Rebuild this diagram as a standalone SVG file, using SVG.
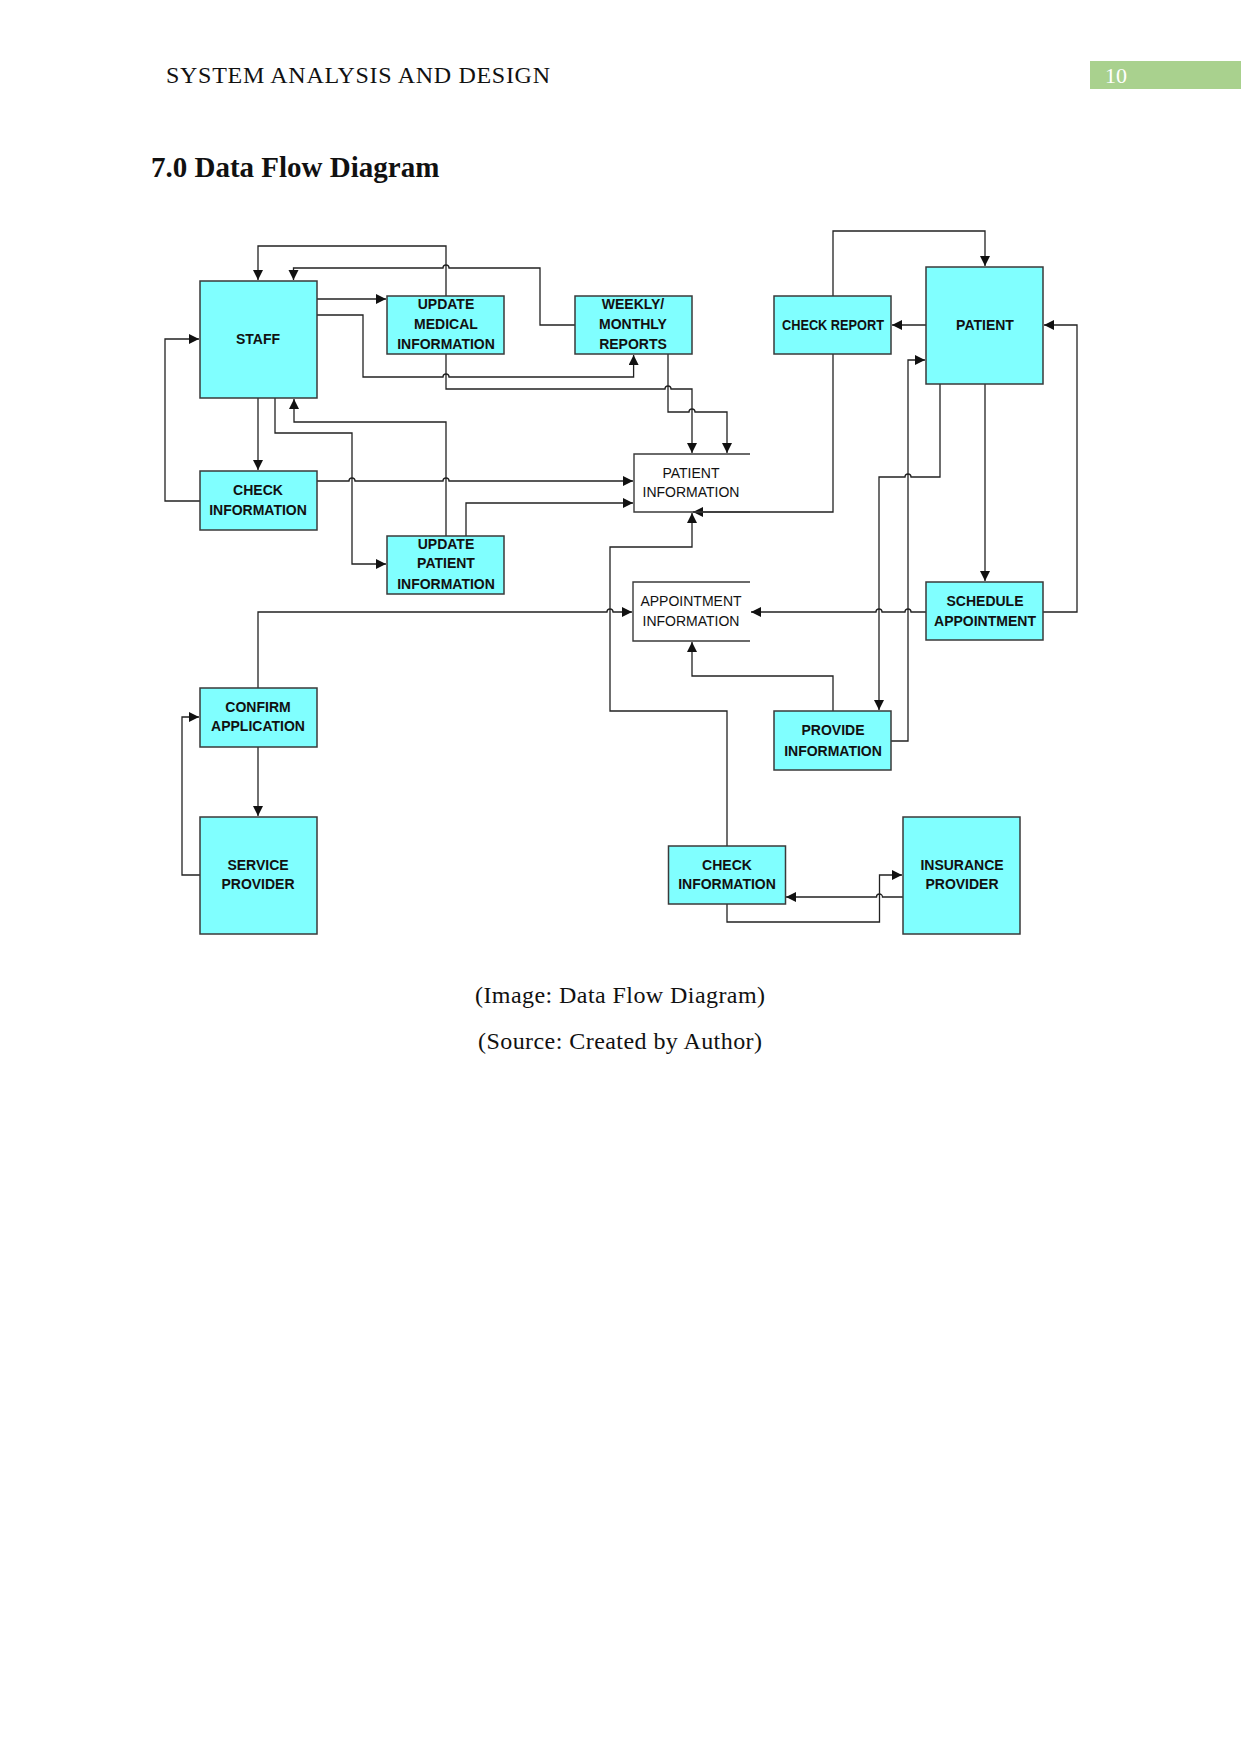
<svg xmlns="http://www.w3.org/2000/svg" width="1241" height="1754" viewBox="0 0 1241 1754">
<style>
.box{fill:#80ffff;stroke:#3a3a3a;stroke-width:1.5}
.store{fill:none;stroke:#3a3a3a;stroke-width:1.4}
.lbl{font-family:"Liberation Sans",Arial,sans-serif;font-size:14px;font-weight:bold;fill:#111;text-anchor:middle}
.slbl{font-family:"Liberation Sans",Arial,sans-serif;font-size:14px;fill:#111;text-anchor:middle}
.c path{fill:none;stroke:#222;stroke-width:1.3}
.ar{marker-end:url(#arr)}
</style>
<defs>
<marker id="arr" markerUnits="userSpaceOnUse" markerWidth="12" markerHeight="12" refX="10" refY="5" orient="auto">
<path d="M0,0 L10,5 L0,10 z" fill="#111"/>
</marker>
</defs>
<rect width="1241" height="1754" fill="#fff"/>
<text x="166" y="83" font-family="Liberation Serif,serif" font-size="24" textLength="384" fill="#111">SYSTEM ANALYSIS AND DESIGN</text>
<rect x="1090" y="61" width="151" height="28" fill="#a9d18e"/>
<text x="1105" y="83" font-family="Liberation Serif,serif" font-size="22" fill="#fff">10</text>
<text x="151" y="177" font-family="Liberation Serif,serif" font-size="29" font-weight="bold" fill="#111">7.0 Data Flow Diagram</text>

<g class="c" id="connectors">
<path class="ar" d="M446,296 V246 H258 V280"/>
<path class="ar" d="M575,325 H540 V268 H449 a3,3 0 0 0 -6,0 H293.5 V280"/>
<path class="ar" d="M317,299 H386"/>
<path class="ar" d="M317,315 H363 V377 H443 a3,3 0 0 1 6,0 H633.6 V355"/>
<path class="ar" d="M446,354 V389 H665 a3,3 0 0 1 6,0 H692 V453"/>
<path class="ar" d="M668,354 V412 H689 a3,3 0 0 1 6,0 H727 V453"/>
<path class="ar" d="M258,398 V470"/>
<path class="ar" d="M200,501 H165 V339 H199"/>
<path class="ar" d="M275,398 V433 H352 V564 H386"/>
<path class="ar" d="M446,536 V422 H294 V399"/>
<path class="ar" d="M317,481 H349 a3,3 0 0 1 6,0 H443 a3,3 0 0 1 6,0 H633"/>
<path class="ar" d="M466,536 V503 H633"/>
<path class="ar" d="M833,354 V512 H693"/>
<path class="ar" d="M833,296 V231 H985 V266"/>
<path class="ar" d="M926,325 H892"/>
<path class="ar" d="M1043,612 H1077 V325 H1044"/>
<path class="ar" d="M985,384 V581"/>
<path class="ar" d="M940,384 V477 H911 a3,3 0 0 0 -6,0 H879 V710"/>
<path class="ar" d="M891,741 H908 V360 H925"/>
<path class="ar" d="M926,612 H911 a3,3 0 0 0 -6,0 H882 a3,3 0 0 0 -6,0 H751"/>
<path class="ar" d="M258,688 V612 H607 a3,3 0 0 1 6,0 H632"/>
<path class="ar" d="M833,711 V676 H692 V642"/>
<path class="ar" d="M727,846 V711 H610 V547 H692 V513"/>
<path class="ar" d="M258,747 V816"/>
<path class="ar" d="M200,875 H182 V717 H199"/>
<path class="ar" d="M903,897 H882.5 a3,3 0 0 0 -6,0 H786"/>
<path class="ar" d="M727,904 V922 H879.5 V875 H902"/>
</g>

<g id="staff"><rect class="box" x="200" y="281" width="117" height="117"/><text class="lbl" x="258" y="344">STAFF</text></g>
<g id="update-medical"><rect class="box" x="387" y="296" width="117" height="58"/><text class="lbl" x="446" y="309">UPDATE</text><text class="lbl" x="446" y="329">MEDICAL</text><text class="lbl" x="446" y="349">INFORMATION</text></g>
<g id="weekly"><rect class="box" x="575" y="296" width="117" height="58"/><text class="lbl" x="633" y="309">WEEKLY/</text><text class="lbl" x="633" y="329">MONTHLY</text><text class="lbl" x="633" y="349">REPORTS</text></g>
<g id="check-report"><rect class="box" x="774" y="296" width="117" height="58"/><text class="lbl" x="833" y="330" textLength="102" lengthAdjust="spacingAndGlyphs">CHECK REPORT</text></g>
<g id="patient"><rect class="box" x="926" y="267" width="117" height="117"/><text class="lbl" x="985" y="330">PATIENT</text></g>
<g id="check-info-1"><rect class="box" x="200" y="471" width="117" height="59"/><text class="lbl" x="258" y="495">CHECK</text><text class="lbl" x="258" y="515">INFORMATION</text></g>
<g id="patient-info"><path class="store" d="M750,454 H634 V512 H750"/><text class="slbl" x="691" y="478">PATIENT</text><text class="slbl" x="691" y="497">INFORMATION</text></g>
<g id="update-patient"><rect class="box" x="387" y="536" width="117" height="58"/><text class="lbl" x="446" y="549">UPDATE</text><text class="lbl" x="446" y="568">PATIENT</text><text class="lbl" x="446" y="589">INFORMATION</text></g>
<g id="appointment-info"><path class="store" d="M750,582 H633 V641 H750"/><text class="slbl" x="691" y="606">APPOINTMENT</text><text class="slbl" x="691" y="626">INFORMATION</text></g>
<g id="schedule"><rect class="box" x="926" y="582" width="117" height="58"/><text class="lbl" x="985" y="606">SCHEDULE</text><text class="lbl" x="985" y="626">APPOINTMENT</text></g>
<g id="confirm"><rect class="box" x="200" y="688" width="117" height="59"/><text class="lbl" x="258" y="712">CONFIRM</text><text class="lbl" x="258" y="731">APPLICATION</text></g>
<g id="provide"><rect class="box" x="774" y="711" width="117" height="59"/><text class="lbl" x="833" y="735">PROVIDE</text><text class="lbl" x="833" y="756">INFORMATION</text></g>
<g id="service"><rect class="box" x="200" y="817" width="117" height="117"/><text class="lbl" x="258" y="870">SERVICE</text><text class="lbl" x="258" y="889">PROVIDER</text></g>
<g id="check-info-2"><rect class="box" x="668.5" y="846" width="117" height="58"/><text class="lbl" x="727" y="870">CHECK</text><text class="lbl" x="727" y="889">INFORMATION</text></g>
<g id="insurance"><rect class="box" x="903" y="817" width="117" height="117"/><text class="lbl" x="962" y="870">INSURANCE</text><text class="lbl" x="962" y="889">PROVIDER</text></g>

<text x="620" y="1003" font-family="Liberation Serif,serif" font-size="24" text-anchor="middle" textLength="290" fill="#111">(Image: Data Flow Diagram)</text>
<text x="620" y="1049" font-family="Liberation Serif,serif" font-size="24" text-anchor="middle" textLength="284" fill="#111">(Source: Created by Author)</text>
</svg>
